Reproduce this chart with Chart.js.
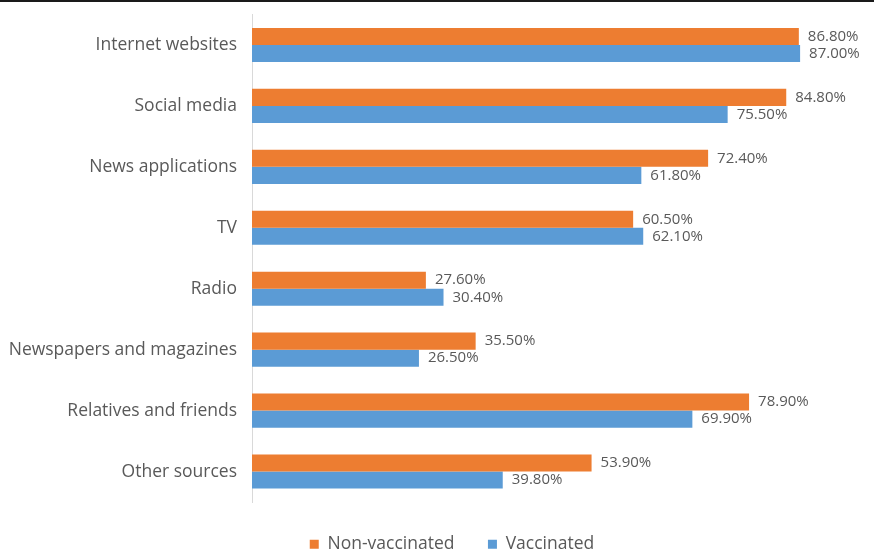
<!DOCTYPE html>
<html>
<head>
<meta charset="utf-8">
<script src="https://cdn.jsdelivr.net/npm/chart.js@4"></script>
<style>
  html, body { margin: 0; padding: 0; background: #fff; overflow: hidden; }
  #wrap { width: 874px; height: 552px; overflow: hidden; position: relative; }
  #topline { position: absolute; left: 0; top: 0; width: 874px; height: 2px; background: #1a1a1a; }
</style>
</head>
<body>
<div id="wrap">
  <canvas id="myChart" width="882" height="552"></canvas>
  <div id="topline"></div>
</div>
<script>
var categories = ['Internet websites', 'Social media', 'News applications', 'TV', 'Radio',
  'Newspapers and magazines', 'Relatives and friends', 'Other sources'];
var nonVaccinated = [86.8, 84.8, 72.4, 60.5, 27.6, 35.5, 78.9, 53.9];
var vaccinated = [87.0, 75.5, 61.8, 62.1, 30.4, 26.5, 69.9, 39.8];

var textColor = '#595959';
var fontFamily = '"Open Sans", sans-serif';

// writes the value just past the end of each bar
var barLabels = {
    id: 'barLabels',
    afterDatasetsDraw: function(chart) {
        var ctx = chart.ctx;
        ctx.save();
        ctx.font = '15px ' + fontFamily;
        ctx.fillStyle = textColor;
        ctx.textAlign = 'left';
        ctx.textBaseline = 'middle';
        chart.data.datasets.forEach(function(ds, i) {
            chart.getDatasetMeta(i).data.forEach(function(bar, j) {
                ctx.fillText(ds.data[j].toFixed(2) + '%', bar.x + 9, bar.y);
            });
        });
        ctx.restore();
    }
};

// the legend sits a little right of the canvas centre in the original
var legendShift = {
    id: 'legendShift',
    afterLayout: function(chart) {
        chart.legend.left += 11;
        chart.legend.right += 11;
    }
};

var ctx = document.getElementById('myChart').getContext('2d');
var chart = new Chart(ctx, {
    type: 'bar',
    data: {
        labels: categories,
        datasets: [{
            label: 'Non-vaccinated',
            backgroundColor: '#ED7D31',
            data: nonVaccinated,
            categoryPercentage: 0.56,
            barPercentage: 1.0
        },
        {
            label: 'Vaccinated',
            backgroundColor: '#5B9BD5',
            data: vaccinated,
            categoryPercentage: 0.56,
            barPercentage: 1.0
        }]
    },
    options: {
        indexAxis: 'y',
        responsive: false,
        animation: false,
        layout: { padding: { top: 14.5, right: 0, bottom: -11, left: 0 } },
        plugins: {
            tooltip: { enabled: false },
            legend: {
                position: 'bottom',
                labels: {
                    boxWidth: 9,
                    boxHeight: 9,
                    padding: 33.5,
                    color: textColor,
                    font: { family: fontFamily, size: 17.5 }
                }
            }
        },
        scales: {
            x: {
                display: false,
                min: 0,
                max: 100
            },
            y: {
                grid: { display: false, drawTicks: false },
                border: { display: true, color: '#d9d9d9', width: 1 },
                ticks: {
                    color: textColor,
                    padding: 15,
                    font: { family: fontFamily, size: 17.5 }
                },
                afterFit: function(scale) {
                    scale.width = 252;
                    scale.paddingTop = 0;
                }
            }
        }
    },
    plugins: [barLabels, legendShift]
});
</script>
</body>
</html>
